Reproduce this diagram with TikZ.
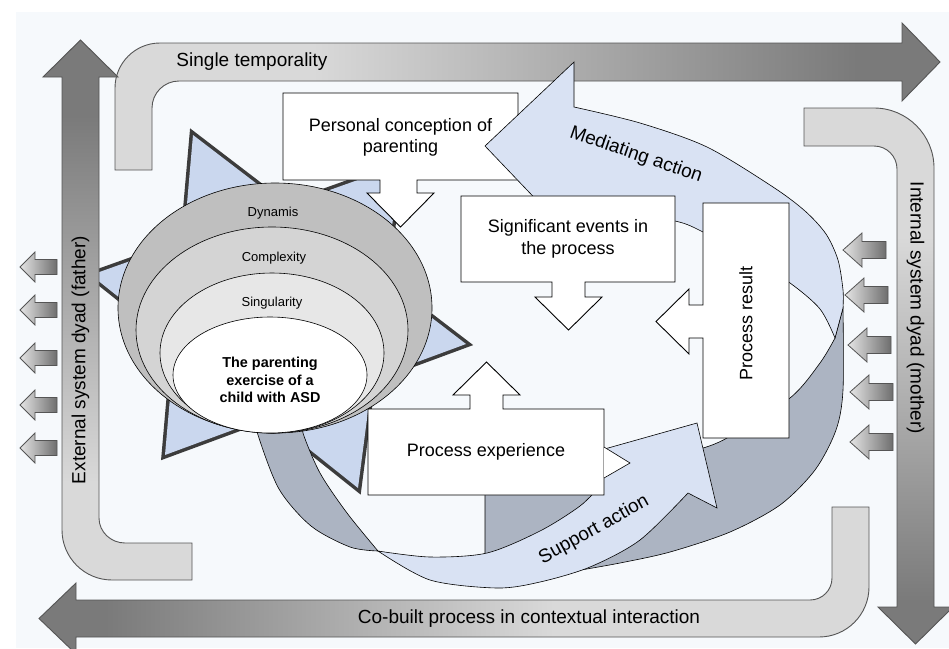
\documentclass[tikz,border=0pt]{standalone}
\usepackage{fontspec}
\setmainfont{Liberation Sans}
\definecolor{bg}{HTML}{F6F9FC}
\definecolor{lblue}{HTML}{D9E2F3}
\definecolor{starblue}{HTML}{CAD7EE}
\definecolor{starline}{HTML}{3C3C3C}
\definecolor{ribbon}{HTML}{ACB4C2}
\definecolor{ellA}{HTML}{BFBFBF}
\definecolor{ellB}{HTML}{D4D4D4}
\definecolor{ellC}{HTML}{E7E7E7}
\definecolor{gA}{HTML}{D9D9D9}
\definecolor{gB}{HTML}{7A7A7A}
\definecolor{edgegray}{HTML}{555555}
\pgfdeclarehorizontalshading{topgrad}{100bp}{color(0bp)=(gA); color(25bp)=(gA); color(37bp)=(gA); color(70bp)=(gB); color(75bp)=(gB); color(100bp)=(gB)}
\pgfdeclareverticalshading{fathergrad}{100bp}{color(0bp)=(gA); color(25bp)=(gA); color(34bp)=(gA); color(68bp)=(gB); color(75bp)=(gB); color(100bp)=(gB)}
\pgfdeclareverticalshading{mothergrad}{100bp}{color(0bp)=(gB); color(25bp)=(gB); color(29bp)=(gB); color(63bp)=(gA); color(75bp)=(gA); color(100bp)=(gA)}
\pgfdeclarehorizontalshading{bottomgrad}{100bp}{color(0bp)=(gB); color(25bp)=(gB); color(29bp)=(gB); color(56bp)=(gA); color(75bp)=(gA); color(100bp)=(gA)}
\begin{document}
\begin{tikzpicture}[x=1pt,y=-1pt,
  bigarrow/.style={draw=edgegray, line width=0.9pt, line join=miter},
  boxshape/.style={draw=black, fill=white, line width=0.9pt},
  band/.style={draw=black, line width=0.6pt, fill=lblue},
  backband/.style={draw=black, line width=0.6pt, fill=ribbon},
  smallarrow/.style={draw=edgegray, line width=0.8pt, left color=gA!70!white, right color=gB!90!black},
  ell/.style={draw=black, line width=0.6pt},
  boxtext/.style={font=\fontsize{18}{21.5}\selectfont, align=center, inner sep=0pt},
  arrowtext/.style={font=\fontsize{19}{22}\selectfont, inner sep=0pt},
  ringtext/.style={font=\fontsize{13}{15}\selectfont, inner sep=0pt}]
\useasboundingbox (0,0) rectangle (949,648);
\fill[white] (0,0) rectangle (949,648);
\fill[bg] (16,12) rectangle (949,648);

% hexagram star
\draw[starline, line width=7pt, line join=miter] (466,344) -- (165,455) -- (193,135) -- cycle;
\draw[starline, line width=7pt, line join=miter] (91,275) -- (358,488) -- (400,165) -- cycle;
\fill[starblue] (466,344) -- (165,455) -- (193,135) -- cycle;
\fill[starblue] (91,275) -- (358,488) -- (400,165) -- cycle;

% big L-shaped arrows
\shadedraw[bigarrow, shading=topgrad] (115,170) -- (115,88) .. controls (115,63.1) and (135.1,43) .. (160,43) -- (902,43) -- (902,23) -- (940,62) -- (902,101) -- (902,81) -- (179,81) .. controls (164.1,81) and (152,93.1) .. (152,108) -- (152,170) -- cycle;
\shadedraw[bigarrow, shading=fathergrad] (80.5,40) -- (118,77) -- (99,77) -- (99,518) .. controls (99,532) and (111,543) .. (125,543) -- (192,543) -- (192,580) -- (112,580) .. controls (84.4,580) and (62,557.6) .. (62,530) -- (62,77) -- (43,77) -- cycle;
\shadedraw[bigarrow, shading=mothergrad] (804,108) -- (874,108) .. controls (907,108) and (934,135) .. (934,168) -- (934,607) -- (953,607) -- (915.5,644) -- (878,607) -- (897,607) -- (897,169) .. controls (897,156.3) and (886.7,146) .. (874,146) -- (804,146) -- cycle;
\shadedraw[bigarrow, shading=bottomgrad] (39,618.5) -- (76,583) -- (76,600) -- (810,600) .. controls (822.2,600) and (832,590.2) .. (832,578) -- (832,507) -- (869,507) -- (869,587) .. controls (869,614.6) and (846.6,637) .. (819,637) -- (76,637) -- (76,654) -- cycle;

% back side of the ribbon
\draw[backband] (256,418) -- plot[smooth] coordinates {(256,418) (258,435) (279,489) (311,526) (350,547) (378,551)} -- plot[smooth] coordinates {(378,551) (347,513) (320,473) (303,433) (303,418)} -- cycle;
\draw[backband] (575,571) -- plot[smooth] coordinates {(575,571) (620,563) (670,552) (730,532) (780,505) (815,470) (836,430) (843,390) (843,308)} -- (835,338) -- plot[smooth] coordinates {(835,338) (820,363) (790,398) (727,438) (703,448)} -- (660,465) -- (640,470) -- (485,470) -- (485,562) -- (540,572) -- cycle;

% nested ellipses
\draw[ell, fill=ellA] (275,308) ellipse [x radius=157pt, y radius=125pt];
\draw[ell, fill=ellB] (272,330) ellipse [x radius=136pt, y radius=103pt];
\draw[ell, fill=ellC] (272,353) ellipse [x radius=112pt, y radius=80pt];
\draw[ell, fill=white] (270,375) ellipse [x radius=97pt, y radius=58pt];

% support action band
\draw[band] (378,551) -- plot[smooth] coordinates {(378,551) (430,557) (487,553) (540,531) (580,506) (600,486)} -- (601,450) -- (697,423) -- (717,508) -- (688,493) -- plot[smooth] coordinates {(688,493) (640,540) (590,567) (540,582) (497,588) (430,580) (378,551)} -- cycle;

% personal conception box (under mediating arrow head)
\draw[boxshape] (283,93) -- (518,93) -- (518,180) -- (417,180) -- (417,193) -- (434,193) -- (400.5,227) -- (367,193) -- (380,193) -- (380,180) -- (283,180) -- cycle;

% mediating action band
\draw[band] (485,146) -- (574,62) -- (574,107) -- plot[smooth] coordinates {(574,107) (640,123) (707,147) (773,187) (805,211) (826,234) (838,260) (843,290) (843,308)} -- (835,338) -- plot[smooth] coordinates {(835,338) (820,309) (790,283) (745,255) (703,232) (675,221) (610,212) (548,212)} -- cycle;

% other boxes
\draw[boxshape] (461,196) -- (675,196) -- (675,282) -- (585,282) -- (585,297) -- (602,297) -- (568.5,330) -- (535,297) -- (552,297) -- (552,282) -- (461,282) -- cycle;
\draw[boxshape] (703,203) -- (789,203) -- (789,438) -- (703,438) -- (703,338) -- (689,338) -- (689,354) -- (656,321.5) -- (689,289) -- (689,305) -- (703,305) -- cycle;
\draw[boxshape] (368,409) -- (470,409) -- (470,395) -- (453,395) -- (486.5,362) -- (520,395) -- (503,395) -- (503,409) -- (604,409) -- (604,495) -- (368,495) -- cycle;
\filldraw[fill=white, draw=black, line width=0.6pt] (604,447) -- (630,463) -- (604,478);

% small arrows
\foreach \y in {267,310,358,405,448}
  \shadedraw[smallarrow] (20,\y) -- (35,\y-15) -- (35,\y-7.5) -- (57,\y-7.5) -- (57,\y+7.5) -- (35,\y+7.5) -- (35,\y+15) -- cycle;
\foreach \x/\y in {843/250,845/295,848/345,850/392,850/442}
  \shadedraw[smallarrow] (\x,\y) -- (\x+19,\y-17) -- (\x+19,\y-8.5) -- (\x+43,\y-8.5) -- (\x+43,\y+8.5) -- (\x+19,\y+8.5) -- (\x+19,\y+17) -- cycle;

% texts
\node[arrowtext] (st) at (252,62) {Single temporality};
\node[arrowtext, rotate=90] (ext) at (80.5,360) {External system dyad (father)};
\node[arrowtext, rotate=-90] (int) at (915.5,308) {Internal system dyad (mother)};
\node[arrowtext] (cb) at (529,619) {Co-built process in contextual interaction};
\node[arrowtext, rotate=-19] (ma) at (636,155) {Mediating action};
\node[arrowtext, rotate=29] (sa) at (594,530) {Support action};
\node[boxtext] (pc) at (400.5,137.5) {Personal conception of\\parenting};
\node[boxtext] (se) at (568,239) {Significant events in\\the process};
\node[boxtext] (pe) at (486,452) {Process experience};
\node[boxtext, rotate=90] (pr) at (746,323) {Process result};
\node[ringtext] (dy) at (273,213) {Dynamis};
\node[ringtext] (co) at (274,258) {Complexity};
\node[ringtext] (si) at (272,303) {Singularity};
\node[font=\fontsize{14.4}{17.5}\selectfont\bfseries, align=center, inner sep=0pt] (core) at (270,380) {The parenting\\exercise of a\\child with ASD};
\end{tikzpicture}
\end{document}
